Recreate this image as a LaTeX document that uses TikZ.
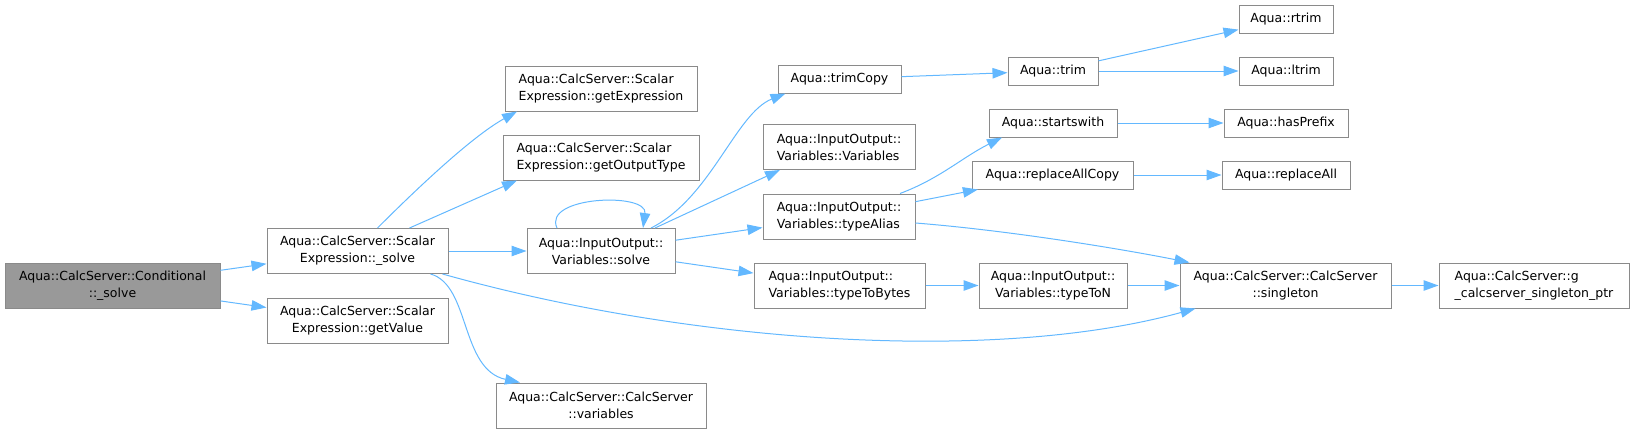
\documentclass[tikz,border=0pt]{standalone}
\usepackage{fontspec}
\setmainfont{DejaVu Sans}
\usetikzlibrary{arrows.meta}
\definecolor{edgeblue}{HTML}{63B8FF}
\definecolor{boxgray}{HTML}{8A8A8A}
\definecolor{rootfill}{HTML}{999999}

\begin{document}
\begin{tikzpicture}[x=1pt, y=-1pt,
    fn/.style={draw=boxgray, fill=white, line width=1pt, inner sep=0pt,
      minimum height=45pt, align=center, font=\fontsize{12.5}{17}\selectfont},
    fnl/.style={fn, align=left},
    fnone/.style={fn, minimum height=28pt},
    root/.style={fn, fill=rootfill},
    call/.style={draw=edgeblue, line width=1pt, -{Triangle[length=15pt, width=10.5pt]}}]

    \useasboundingbox (0, 0) rectangle (1632, 434);

    \node[root, minimum width=215pt] (cond) at (112.5, 285.5) {Aqua::CalcServer::Conditional\\::\_solve};
    \node[fn, minimum width=181pt] (ssolve) at (357.5, 251) {Aqua::CalcServer::Scalar\\Expression::\_solve};
    \node[fn, minimum width=181pt] (sgetval) at (357.5, 320.5) {Aqua::CalcServer::Scalar\\Expression::getValue};
    \node[fnl, minimum width=192pt] (sgetexpr) at (601, 88.5) {Aqua::CalcServer::Scalar\\Expression::getExpression};
    \node[fnl, minimum width=196pt] (sgetout) at (601, 157.5) {Aqua::CalcServer::Scalar\\Expression::getOutputType};
    \node[fn, minimum width=148pt] (vsolve) at (601, 251) {Aqua::InputOutput::\\Variables::solve};
    \node[fn, minimum width=210pt] (cvars) at (601, 405.5) {Aqua::CalcServer::CalcServer\\::variables};
    \node[fnone, minimum width=123pt] (trimcopy) at (839.5, 79) {Aqua::trimCopy};
    \node[fnl, minimum width=152pt] (vvars) at (839, 147) {Aqua::InputOutput::\\Variables::Variables};
    \node[fnl, minimum width=152pt] (vtalias) at (839, 216.5) {Aqua::InputOutput::\\Variables::typeAlias};
    \node[fnl, minimum width=171pt] (vtbytes) at (839.5, 285.5) {Aqua::InputOutput::\\Variables::typeToBytes};
    \node[fnone, minimum width=90pt] (trim) at (1053, 71) {Aqua::trim};
    \node[fnone, minimum width=128pt] (startsw) at (1053, 123) {Aqua::startswith};
    \node[fnone, minimum width=161pt] (replcopy) at (1052.5, 175) {Aqua::replaceAllCopy};
    \node[fn, minimum width=148pt] (typeton) at (1053, 285.5) {Aqua::InputOutput::\\Variables::typeToN};
    \node[fnone, minimum width=94pt] (rtrim) at (1286, 19) {Aqua::rtrim};
    \node[fnone, minimum width=94pt] (ltrim) at (1286, 71) {Aqua::ltrim};
    \node[fnone, minimum width=124pt] (hasprefix) at (1286, 123) {Aqua::hasPrefix};
    \node[fnone, minimum width=128pt] (replall) at (1286, 175) {Aqua::replaceAll};
    \node[fn, minimum width=211pt] (singleton) at (1285.5, 285.5) {Aqua::CalcServer::CalcServer\\::singleton};
    \node[fnl, minimum width=190pt] (gptr) at (1534, 285.5) {Aqua::CalcServer::g\\\_calcserver\_singleton\_ptr};

    \draw[call] (cond) -- (ssolve);
    \draw[call] (cond) -- (sgetval);
    \draw[call] ([xshift=20pt]ssolve.north) .. controls +(40,-40) and +(-45,25) .. ([xshift=-84pt]sgetexpr.south);
    \draw[call] ([xshift=52pt]ssolve.north) -- ([xshift=-84pt]sgetout.south);
    \draw[call] (ssolve) -- (vsolve);
    \draw[call] ([xshift=85pt]ssolve.south) .. controls +(250,70) and +(-200,55) .. ([xshift=-90pt]singleton.south);
    \draw[call] ([xshift=73pt]ssolve.south) .. controls +(40,11) and +(-60,-13) .. ([xshift=-81pt]cvars.north);
    \draw[call] ([xshift=-44pt]vsolve.north) .. controls +(-15,-32) and +(5,-36) .. ([xshift=42pt]vsolve.north);
    \draw[call] ([xshift=50pt]vsolve.north) .. controls +(60,-30) and +(-50,20) .. ([xshift=-54pt]trimcopy.south);
    \draw[call] ([xshift=54pt]vsolve.north) -- ([xshift=-59pt]vvars.south);
    \draw[call] (vsolve) -- (vtalias);
    \draw[call] (vsolve) -- (vtbytes);
    \draw[call] (trimcopy) -- (trim);
    \draw[call] (trim) -- (rtrim);
    \draw[call] (trim) -- (ltrim);
    \draw[call] ([xshift=61pt]vtalias.north) .. controls +(40,-15) and +(-40,20) .. ([xshift=-51pt]startsw.south);
    \draw[call] (vtalias) -- (replcopy);
    \draw[call] ([yshift=-6.5pt]vtalias.east) .. controls +(100,8) and +(-60,-12) .. ([xshift=-96pt]singleton.north);
    \draw[call] (vtbytes) -- (typeton);
    \draw[call] (typeton) -- (singleton);
    \draw[call] (startsw) -- (hasprefix);
    \draw[call] (replcopy) -- (replall);
    \draw[call] (singleton) -- (gptr);

\end{tikzpicture}
\end{document}
